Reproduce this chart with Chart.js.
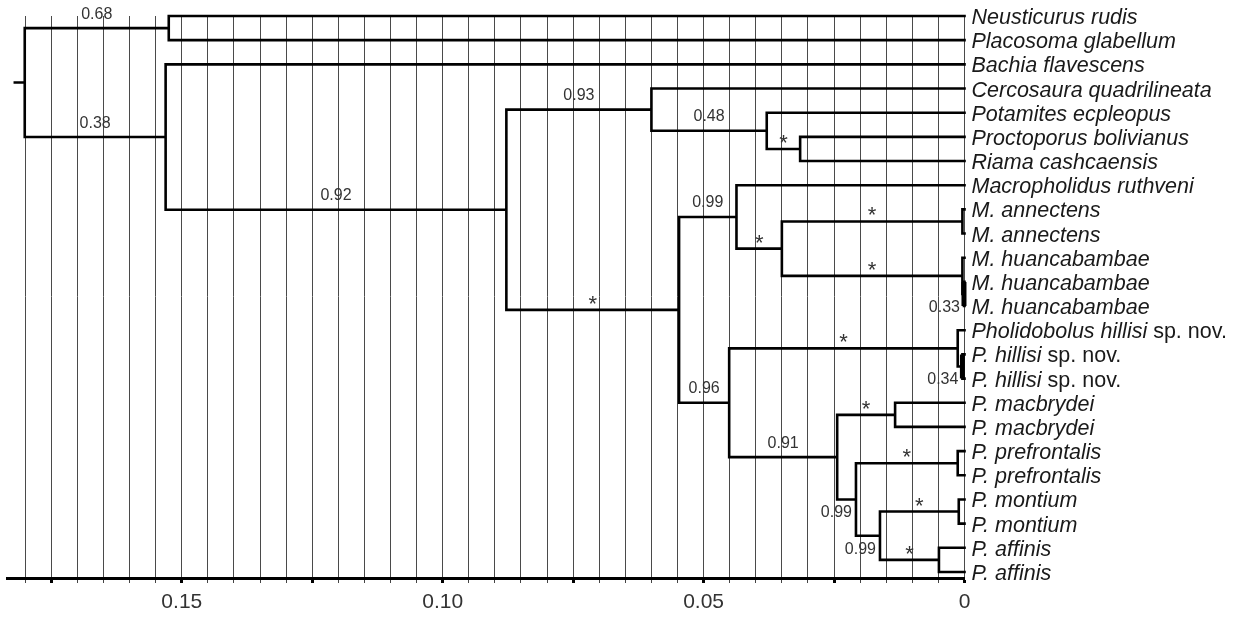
<!DOCTYPE html>
<html>
<head>
<meta charset="utf-8">
<script src="https://cdn.jsdelivr.net/npm/chart.js@4.4.0/dist/chart.umd.min.js"></script>
<style>
	html, body { margin: 0; padding: 0; background: #fff; }
	#wrap { width: 1242px; height: 617px; }
</style>
</head>
<body>
<div id="wrap"><canvas id="tree" width="1242" height="617"></canvas></div>
<script>
// Tip labels, top to bottom
const taxa = [
	'Neusticurus rudis', 'Placosoma glabellum', 'Bachia flavescens', 'Cercosaura quadrilineata',
	'Potamites ecpleopus', 'Proctoporus bolivianus', 'Riama cashcaensis', 'Macropholidus ruthveni',
	'M. annectens', 'M. annectens', 'M. huancabambae', 'M. huancabambae', 'M. huancabambae',
	'Pholidobolus hillisi', 'P. hillisi', 'P. hillisi', 'P. macbrydei', 'P. macbrydei',
	'P. prefrontalis', 'P. prefrontalis', 'P. montium', 'P. montium', 'P. affinis', 'P. affinis'
];
// upright text that follows the italic name
const taxonSuffix = ['', '', '', '', '', '', '', '', '', '', '', '', '', ' sp. nov.', ' sp. nov.', ' sp. nov.', '', '', '', '', '', '', '', ''];

// Internal nodes: name, height (distance from the tips), children (taxon index or node name), support
const nodeNames = ['root', 'neuPlac', 'bachiaClade', 'cercoMacro', 'cercoClade', 'potamites', 'procRiama',
	'macroPholi', 'macroClade', 'annHua', 'annectens', 'huanca', 'huanca2', 'hillisi', 'hillisi2',
	'pholiRest', 'pholiCore', 'macbrydei', 'prefMontAff', 'prefrontalis', 'montAff', 'montium', 'affinis'];
const nodeHeights = [0.1801, 0.1525, 0.1531, 0.0878, 0.0600, 0.0379, 0.0315,
	0.0547, 0.0437, 0.0350, 0.0004, 0.0004, 0.0001, 0.0013, 0.0004,
	0.0451, 0.0244, 0.0133, 0.0208, 0.0013, 0.0162, 0.0011, 0.0049];
const nodeChildren = [
	['neuPlac', 'bachiaClade'], [0, 1], [2, 'cercoMacro'], ['cercoClade', 'macroPholi'],
	[3, 'potamites'], [4, 'procRiama'], [5, 6],
	['macroClade', 'pholiRest'], [7, 'annHua'], ['annectens', 'huanca'], [8, 9], [10, 'huanca2'], [11, 12],
	[13, 'hillisi2'], [14, 15],
	['hillisi', 'pholiCore'], ['macbrydei', 'prefMontAff'], [16, 17], ['prefrontalis', 'montAff'], [18, 19],
	['montium', 'affinis'], [20, 21], [22, 23]
];
const nodeSupport = ['', '0.68', '0.38', '0.92', '0.93', '0.48', '*',
	'*', '0.99', '*', '*', '*', '0.33', '*', '0.34',
	'0.96', '0.91', '*', '0.99', '*', '0.99', '*', '*'];
const rootStub = 0.0019;

// Axis
const xTickValues = [0, 0.05, 0.1, 0.15];
const xTickLabels = ['0', '0.05', '0.10', '0.15'];
const gridStep = 0.005;
const majorStep = 0.025;
const axisMax = 0.1835;

// style bits
const thickNodes = ['huanca2', 'hillisi2'];
const belowLabelNodes = ['huanca2', 'hillisi2', 'prefMontAff', 'montAff'];
const FONT = '"Liberation Sans", Arial, sans-serif';

// Geometry helpers (in data units)
const nodeIndex = name => nodeNames.indexOf(name);
const parentOf = {};
nodeChildren.forEach((kids, n) => kids.forEach(c => { if (typeof c === 'string') parentOf[c] = nodeNames[n]; }));

function childX(c) {
	return typeof c === 'number' ? 0 : nodeHeights[nodeIndex(c)];
}
function childY(c) {
	if (typeof c === 'number') return c + 1;
	const kids = nodeChildren[nodeIndex(c)];
	return (childY(kids[0]) + childY(kids[kids.length - 1])) / 2;
}

// Build branch segments, separated by gaps
const branchPts = [];
const thickPts = [];
nodeNames.forEach((id, n) => {
	const xn = nodeHeights[n];
	const kids = nodeChildren[n];
	const ys = kids.map(childY);
	const target = thickNodes.includes(id) ? thickPts : branchPts;
	target.push({ x: xn, y: ys[0] }, { x: xn, y: ys[ys.length - 1] }, { x: xn, y: null });
	kids.forEach((c, k) => {
		branchPts.push({ x: xn, y: ys[k] }, { x: childX(c), y: ys[k] }, { x: xn, y: null });
	});
});
const rootY = childY('root');
branchPts.push({ x: nodeHeights[0] + rootStub, y: rootY }, { x: nodeHeights[0], y: rootY });

const isMajor = v => Math.abs(Math.round(v * 1000) % Math.round(majorStep * 1000)) === 0;

// Labels plugin: tip names and support values
const treeLabels = {
	id: 'treeLabels',
	afterDatasetsDraw(chart) {
		const { ctx, chartArea } = chart;
		const xs = chart.scales.x, ys = chart.scales.y;
		ctx.save();
		ctx.textBaseline = 'alphabetic';

		// tip names
		taxa.forEach((name, i) => {
			const py = ys.getPixelForValue(i + 1) + 8;
			let px = chartArea.right + 7;
			ctx.fillStyle = '#1a1a1a';
			ctx.textAlign = 'left';
			ctx.font = 'italic 21.5px ' + FONT;
			ctx.fillText(name, px, py);
			if (taxonSuffix[i]) {
				px += ctx.measureText(name).width;
				ctx.font = '21.5px ' + FONT;
				ctx.fillText(taxonSuffix[i], px, py);
			}
		});

		// support values
		nodeNames.forEach((id, n) => {
			const label = nodeSupport[n];
			if (!label) return;
			const nx = xs.getPixelForValue(nodeHeights[n]);
			const ny = ys.getPixelForValue(childY(id));
			const parentX = xs.getPixelForValue(nodeHeights[nodeIndex(parentOf[id])]);
			ctx.fillStyle = '#333';
			if (belowLabelNodes.includes(id)) {
				ctx.font = '16px ' + FONT;
				ctx.textAlign = 'right';
				ctx.fillText(label, nx - 4, ny + 18);
			} else if (label === '*') {
				ctx.font = '22px ' + FONT;
				ctx.textAlign = 'center';
				ctx.fillText(label, (parentX + nx) / 2, ny + 1);
			} else {
				ctx.font = '16px ' + FONT;
				ctx.textAlign = 'center';
				ctx.fillText(label, (parentX + nx) / 2, ny - 9.5);
			}
		});
		ctx.restore();
	}
};

new Chart(document.getElementById('tree'), {
	type: 'scatter',
	data: {
		datasets: [
			{
				data: branchPts,
				showLine: true,
				spanGaps: false,
				borderColor: '#000',
				borderWidth: 2.6,
				borderCapStyle: 'square',
				pointRadius: 0,
				clip: false
			},
			{
				data: thickPts,
				showLine: true,
				spanGaps: false,
				borderColor: '#000',
				borderWidth: 5,
				pointRadius: 0,
				clip: false
			}
		]
	},
	options: {
		responsive: false,
		animation: false,
		devicePixelRatio: 1,
		layout: { padding: { left: 7, right: 277.5, top: 16, bottom: 0 } },
		plugins: { legend: { display: false }, tooltip: { enabled: false } },
		scales: {
			x: {
				type: 'linear',
				position: 'bottom',
				reverse: true,
				min: 0,
				max: axisMax,
				afterFit: scale => { scale.height = 39; },
				border: { display: true, color: '#000', width: 3 },
				grid: {
					color: '#4a4a4a',
					lineWidth: 1,
					drawTicks: true,
					tickLength: 5,
					tickColor: ctx => isMajor(ctx.tick.value) ? '#000' : '#444',
					tickWidth: ctx => isMajor(ctx.tick.value) ? 3 : 1
				},
				ticks: {
					stepSize: gridStep,
					includeBounds: false,
					autoSkip: false,
					maxRotation: 0,
					padding: 7,
					color: '#333',
					font: { family: FONT, size: 21 },
					callback: value => {
						const k = Math.round(value * 1000);
						const i = xTickValues.findIndex(v => Math.round(v * 1000) === k);
						return i >= 0 ? xTickLabels[i] : '';
					}
				}
			},
			y: {
				type: 'linear',
				display: false,
				reverse: true,
				min: 1,
				max: 24.25
			}
		}
	},
	plugins: [treeLabels]
});
</script>
</body>
</html>
